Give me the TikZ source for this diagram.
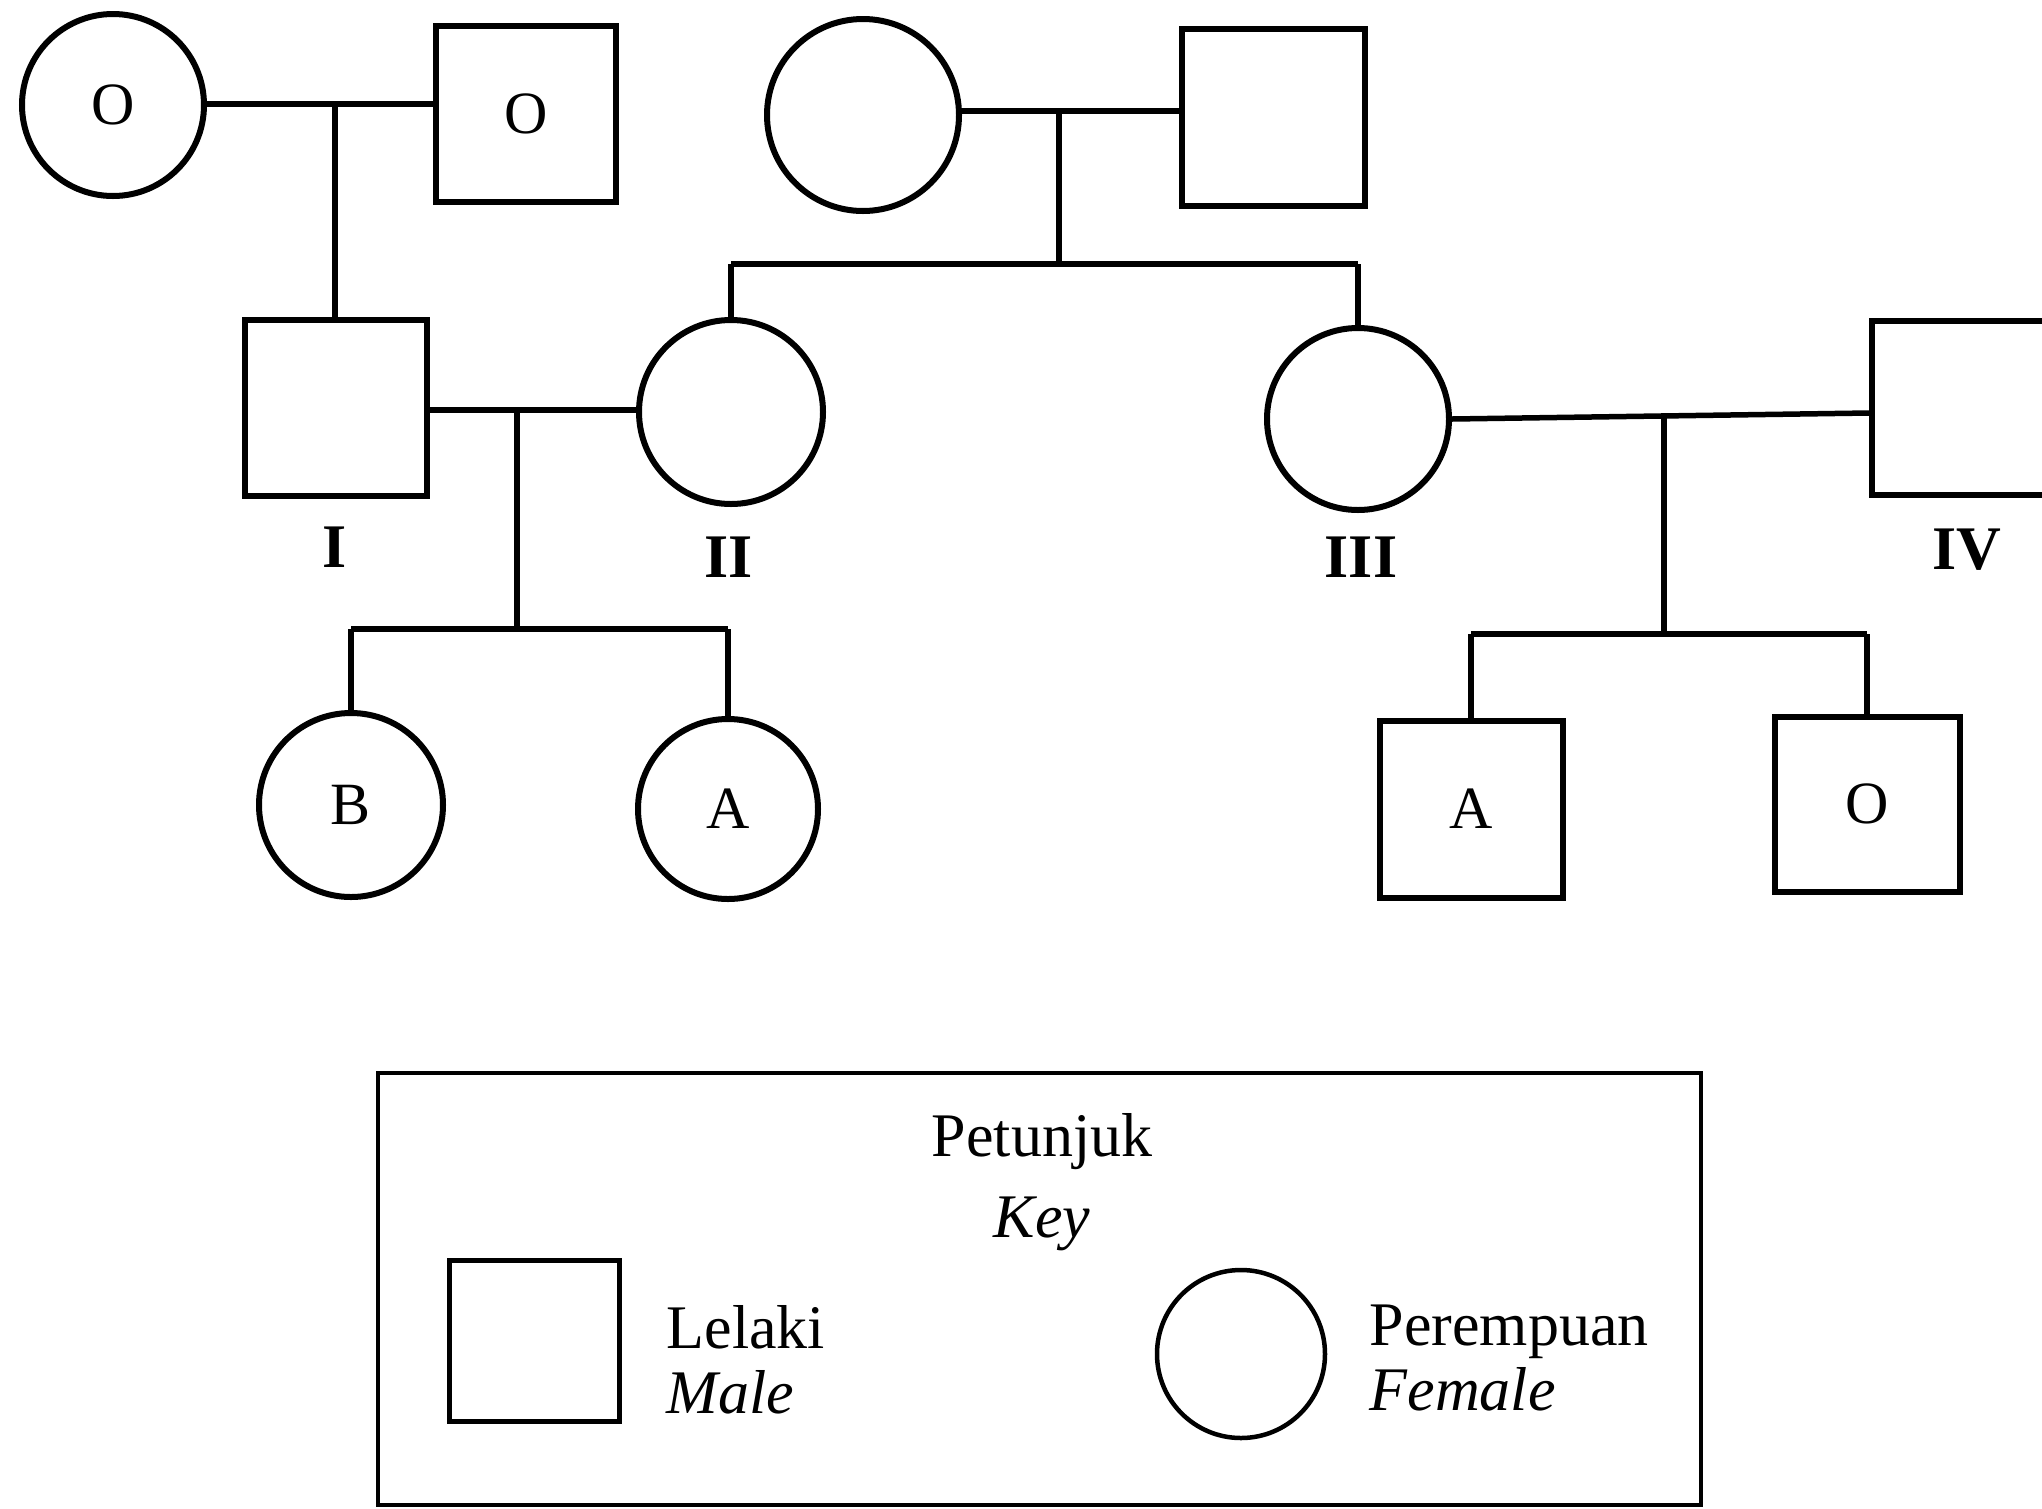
\documentclass[tikz,border=0pt]{standalone}
\usepackage{fontspec}
\setmainfont{Liberation Serif}
\begin{document}
\begin{tikzpicture}[x=1pt,y=-1pt,line width=5.5pt,
  fem/.style={draw,circle,inner sep=0pt,line width=6pt,font=\fontsize{60}{64}\selectfont},
  mal/.style={draw,rectangle,inner sep=0pt,line width=6pt,font=\fontsize{60}{64}\selectfont},
  roman/.style={font=\fontsize{62}{66}\selectfont\bfseries},
  keytxt/.style={font=\fontsize{62}{66}\selectfont,inner sep=0pt}]
\useasboundingbox (0,0) rectangle (2042,1508);
% generation 1
\node[fem,minimum size=182pt] (f1) at (113,105) {O};
\node[mal,minimum width=180pt,minimum height=176pt] (m1) at (526,114) {O};
\node[fem,minimum size=192pt] (f2) at (863,115) {};
\node[mal,minimum width=183pt,minimum height=177pt] (m2) at (1273,117) {};
% generation 2
\node[mal,minimum width=182pt,minimum height=176pt] (I) at (336,408) {};
\node[fem,minimum size=184pt] (II) at (731,412) {};
\node[fem,minimum size=182pt] (III) at (1358,419) {};
\node[mal,minimum width=176pt,minimum height=174pt] (IV) at (1960,408) {};
% generation 3
\node[fem,minimum size=184pt] (B) at (351,805) {B};
\node[fem,minimum size=180pt] (A) at (728,809) {A};
\node[mal,minimum width=183pt,minimum height=177pt] (sA) at (1471,809) {A};
\node[mal,minimum width=185pt,minimum height=175pt] (sO) at (1867,804) {O};
% roman labels
\node[roman] (lI) at (335,547) {I};
\node[roman] (lII) at (729,557) {II};
\node[roman] (lIII) at (1361,557) {III};
\node[roman] (lIV) at (1967,550) {IV};
% coordinates
\coordinate (mar1) at (335,104);
\coordinate (mar2) at (1059,111);
\coordinate (sib2) at (1059,264);
\coordinate (mar3) at (517,410);
\coordinate (sib3) at (517,629);
\coordinate (mar4) at (1664,413);
\coordinate (sib4) at (1664,634);
% connectors
\draw (f1.east |- mar1) -- (m1.west |- mar1);
\draw (mar1) -- (mar1 |- I.north);
\draw (f2.east |- mar2) -- (m2.west |- mar2);
\draw (mar2) -- (sib2);
\draw (II.north |- sib2) -- (III.north |- sib2);
\draw (II.north |- sib2) -- (II.north);
\draw (III.north |- sib2) -- (III.north);
\draw (I.east |- mar3) -- (II.west |- mar3);
\draw (mar3) -- (sib3);
\draw (B.north |- sib3) -- (A.north |- sib3);
\draw (B.north |- sib3) -- (B.north);
\draw (A.north |- sib3) -- (A.north);
\draw (III.east) -- (IV.west |- mar4);
\draw (mar4) -- (sib4);
\draw (sA.north |- sib4) -- (sO.north |- sib4);
\draw (sA.north |- sib4) -- (sA.north);
\draw (sO.north |- sib4) -- (sO.north);
% key
\draw[line width=4.5pt] (378,1073) rectangle (1701,1505);
\node[keytxt,anchor=base] (pet) at (1042,1156) {Petunjuk};
\node[keytxt,anchor=base] (key) at (1042,1237) {\itshape Key};
\node[mal,minimum width=170pt,minimum height=161pt,line width=5pt] (kmale) at (534,1341) {};
\node[keytxt,anchor=base west] (lel) at (664,1348) {Lelaki};
\node[keytxt,anchor=base west] (mal) at (664,1413) {\itshape Male};
\node[fem,minimum size=168pt,line width=4.5pt] (kfem) at (1241,1354) {};
\node[keytxt,anchor=base west] (per) at (1367,1345) {Perempuan};
\node[keytxt,anchor=base west] (fe) at (1367,1410) {\itshape Female};
\end{tikzpicture}
\end{document}
